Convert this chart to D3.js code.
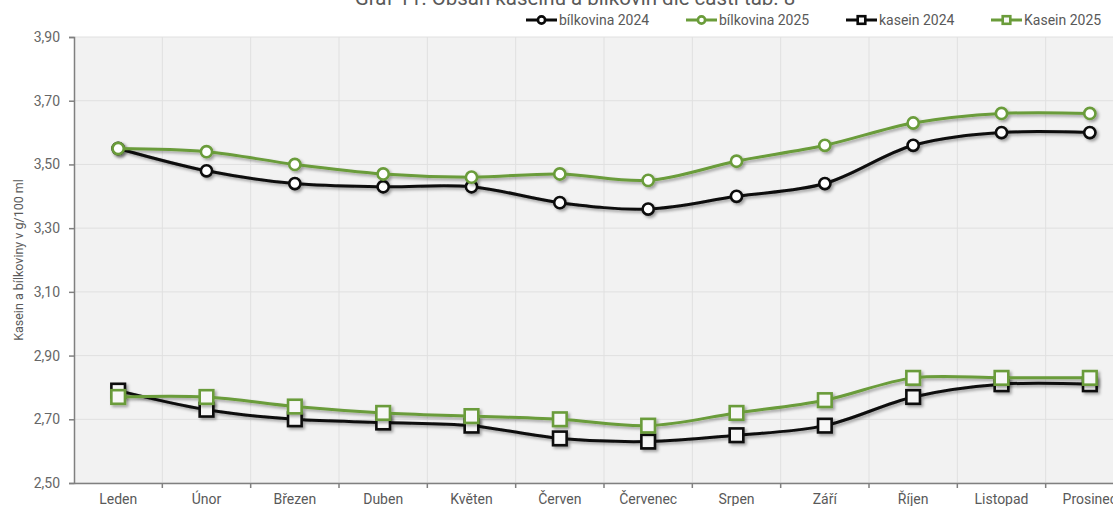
<!DOCTYPE html>
<html>
<head>
<meta charset="utf-8">
<script src="https://cdn.jsdelivr.net/npm/d3@7"></script>
<style>
  html, body { margin: 0; padding: 0; background: #fff; overflow: hidden; }
  #chart { width: 1113px; height: 506px; overflow: hidden; }
</style>
</head>
<body>
<div id="chart"></div>
<script>
(function () {

  'use strict';

  const FONT_FAMILY = 'Roboto, "Noto Sans", sans-serif';
  const GREEN = '#6a9c3a';
  const BLACK = '#0a0a0a';

  // Data.
  const months = ['Leden', 'Únor', 'Březen', 'Duben', 'Květen', 'Červen',
    'Červenec', 'Srpen', 'Září', 'Říjen', 'Listopad', 'Prosinec'];
  const bilkovina2024 = [3.55, 3.48, 3.44, 3.43, 3.43, 3.38, 3.36, 3.40, 3.44, 3.56, 3.60, 3.60];
  const bilkovina2025 = [3.55, 3.54, 3.50, 3.47, 3.46, 3.47, 3.45, 3.51, 3.56, 3.63, 3.66, 3.66];
  const kasein2024 = [2.79, 2.73, 2.70, 2.69, 2.68, 2.64, 2.63, 2.65, 2.68, 2.77, 2.81, 2.81];
  const kasein2025 = [2.77, 2.77, 2.74, 2.72, 2.71, 2.70, 2.68, 2.72, 2.76, 2.83, 2.83, 2.83];
  const yTicks = [2.5, 2.7, 2.9, 3.1, 3.3, 3.5, 3.7, 3.9];

  const series = [
    {name: 'bílkovina 2024', values: bilkovina2024, color: BLACK, marker: 'circle'},
    {name: 'bílkovina 2025', values: bilkovina2025, color: GREEN, marker: 'circle'},
    {name: 'kasein 2024', values: kasein2024, color: BLACK, marker: 'square'},
    {name: 'Kasein 2025', values: kasein2025, color: GREEN, marker: 'square'}
  ];

  // Chart is wider than the window; the right edge gets cut off like the original.
  let margin = {top: 37, right: 30, bottom: 23, left: 74};
  let totalWidth = 1164;
  let totalHeight = 506;
  let width = 1060;
  let height = totalHeight - margin.top - margin.bottom;

  let root = d3.select('#chart')
    .append('svg')
    .attr('width', totalWidth)
    .attr('height', totalHeight)
    .style('font-family', FONT_FAMILY);

  // Drop shadow used by lines and markers.
  let shadow = root.append('defs').append('filter')
    .attr('id', 'shadow')
    .attr('x', '-20%').attr('y', '-20%')
    .attr('width', '140%').attr('height', '140%');
  shadow.append('feDropShadow')
    .attr('dx', 2).attr('dy', 2)
    .attr('stdDeviation', 1.4)
    .attr('flood-color', '#000')
    .attr('flood-opacity', 0.35);

  // Title, mostly above the visible area.
  root.append('text')
    .attr('x', 575)
    .attr('y', 5)
    .attr('text-anchor', 'middle')
    .style('font-size', '20.5px')
    .style('fill', '#595959')
    .text('Graf 11: Obsah kaseinu a bílkovin dle částí tab. 8');

  let svg = root.append('g')
    .attr('transform', 'translate(' + margin.left + ',' + margin.top + ')');

  // Scales.
  let x = d3.scaleBand()
    .domain(months)
    .range([0, width]);

  let y = d3.scaleLinear()
    .domain([2.5, 3.9])
    .range([height, 0]);

  // Plot background.
  svg.append('rect')
    .attr('width', width)
    .attr('height', height)
    .style('fill', '#f2f2f2');

  // Grid lines.
  svg.append('g')
    .selectAll('line')
    .data(yTicks)
    .enter()
    .append('line')
    .attr('x1', 0)
    .attr('x2', width)
    .attr('y1', d => y(d))
    .attr('y2', d => y(d))
    .style('stroke', '#e0e0e0')
    .style('stroke-width', 1);

  svg.append('g')
    .selectAll('line')
    .data(months.slice(1))
    .enter()
    .append('line')
    .attr('x1', d => x(d))
    .attr('x2', d => x(d))
    .attr('y1', 0)
    .attr('y2', height)
    .style('stroke', '#e0e0e0')
    .style('stroke-width', 1);

  // Y axis.
  let yAxis = svg.append('g')
    .call(d3.axisLeft(y)
      .tickValues(yTicks)
      .tickSize(5)
      .tickPadding(9)
      .tickFormat(d => d3.format('.2f')(d).replace('.', ',')));
  yAxis.select('.domain').style('stroke', '#808080').style('stroke-width', 1.5);
  yAxis.selectAll('.tick line').style('stroke', '#808080').style('stroke-width', 1.5);
  yAxis.selectAll('.tick text')
    .style('font-family', FONT_FAMILY)
    .style('font-size', '14px')
    .style('fill', '#666');

  // X axis, ticks sit between the categories.
  let xAxis = svg.append('g')
    .attr('transform', 'translate(0,' + height + ')')
    .call(d3.axisBottom(x).tickSize(0).tickPadding(11));
  xAxis.select('.domain').style('stroke', '#808080').style('stroke-width', 1.5);
  xAxis.selectAll('.tick text')
    .style('font-family', FONT_FAMILY)
    .style('font-size', '14px')
    .style('fill', '#595959');
  xAxis.selectAll('line.between')
    .data(months.slice(1))
    .enter()
    .append('line')
    .attr('class', 'between')
    .attr('x1', d => x(d))
    .attr('x2', d => x(d))
    .attr('y1', 0)
    .attr('y2', 5)
    .style('stroke', '#808080')
    .style('stroke-width', 1.5);

  // Y axis title.
  root.append('text')
    .attr('transform', 'translate(23,' + (margin.top + height / 2) + ') rotate(-90)')
    .attr('text-anchor', 'middle')
    .style('font-size', '12.5px')
    .style('fill', '#595959')
    .text('Kasein a bílkoviny v g/100 ml');

  // Lines and markers.
  let line = d3.line()
    .x((d, i) => x(months[i]) + x.bandwidth() / 2)
    .y(d => y(d))
    .curve(d3.curveCatmullRom.alpha(0.5));

  let drawMarkers = function (g, s, cx, cy, r) {
    if (s.marker === 'circle') {
      g.append('circle')
        .attr('cx', cx)
        .attr('cy', cy)
        .attr('r', r)
        .style('fill', '#fff')
        .style('stroke', s.color)
        .style('stroke-width', 2.6);
    }
    else {
      g.append('rect')
        .attr('x', cx - r)
        .attr('y', cy - r)
        .attr('width', r * 2)
        .attr('height', r * 2)
        .style('fill', '#f7f7f7')
        .style('stroke', s.color)
        .style('stroke-width', 2.6);
    }
  };

  series.forEach(function (s) {
    let g = svg.append('g').attr('filter', 'url(#shadow)');
    g.append('path')
      .datum(s.values)
      .attr('d', line)
      .style('fill', 'none')
      .style('stroke', s.color)
      .style('stroke-width', 3);
    s.values.forEach(function (v, i) {
      drawMarkers(g, s, x(months[i]) + x.bandwidth() / 2, y(v), s.marker === 'circle' ? 5.6 : 6.8);
    });
  });

  // Legend.
  let legendX = [526, 686, 846, 991];
  series.forEach(function (s, i) {
    let g = root.append('g')
      .attr('transform', 'translate(' + legendX[i] + ',20)');
    g.append('line')
      .attr('x1', 0)
      .attr('x2', 31)
      .style('stroke', s.color)
      .style('stroke-width', 3);
    drawMarkers(g, s, 15.5, 0, s.marker === 'circle' ? 3.6 : 3.8);
    g.append('text')
      .attr('x', 33)
      .attr('y', 5)
      .style('font-size', '14px')
      .style('fill', '#595959')
      .text(s.name);
  });

}());
</script>
</body>
</html>
